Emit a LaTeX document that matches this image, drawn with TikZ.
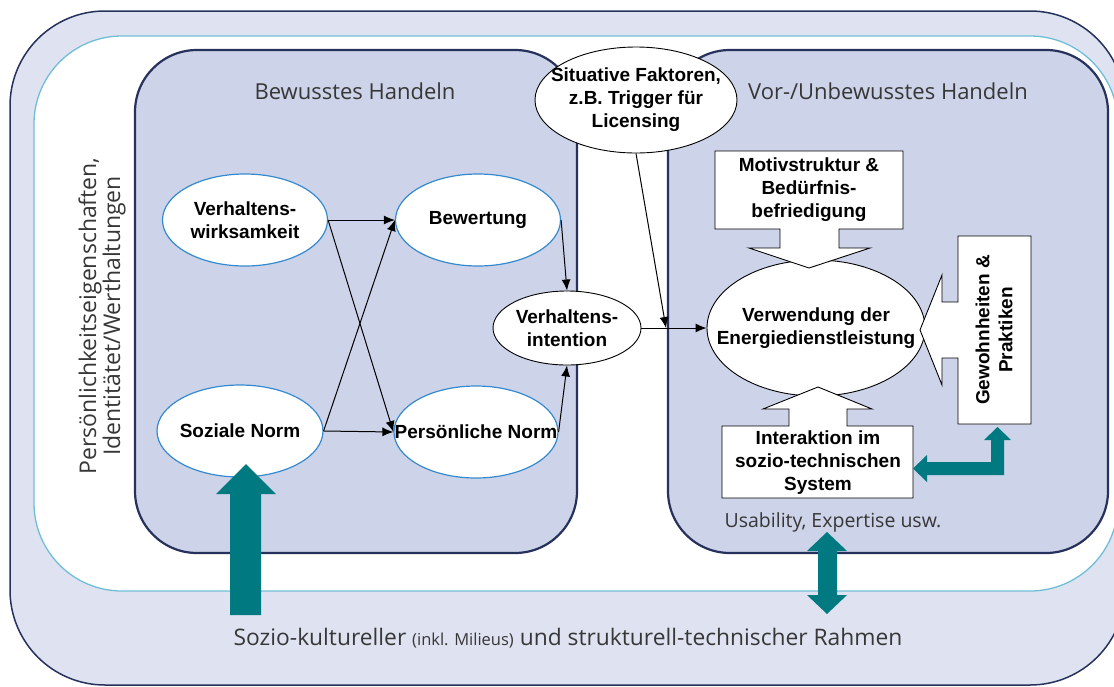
\documentclass[tikz,border=0pt]{standalone}
\usepackage{fontspec}
\setmainfont{Liberation Sans}
\newfontfamily\lightfont{Open Sans}
\usetikzlibrary{arrows.meta,shapes.geometric}

\definecolor{navy}{RGB}{38,50,92}
\definecolor{outerfill}{RGB}{223,227,241}
\definecolor{panelfill}{RGB}{205,211,232}
\definecolor{skyline}{RGB}{112,190,214}
\definecolor{tealarrow}{RGB}{0,122,128}
\definecolor{ellblue}{RGB}{52,138,208}
\definecolor{graytext}{RGB}{55,55,55}

\begin{document}
\begin{tikzpicture}[x=1pt,y=-1pt,
  boldtext/.style={font=\fontsize{19}{23}\selectfont\bfseries,align=center},
  headline/.style={font=\lightfont\fontsize{22}{26}\selectfont,text=graytext,anchor=base},
  blueell/.style={ellipse,draw=ellblue,line width=1.2pt,fill=white,inner sep=-40pt,boldtext},
  blackell/.style={ellipse,draw=black,line width=0.9pt,fill=white,inner sep=-40pt,boldtext},
  conn/.style={line width=1pt,-{Latex[length=11pt,width=9pt]}},
  callout/.style={draw=black,line width=0.9pt,fill=white},
  bigarrow/.style={fill=tealarrow}]
\useasboundingbox (0,0) rectangle (1114,686);

% Step 1
\begin{scope}
\clip (0,0) rectangle (1114,686);
\draw[navy,line width=1.5pt,fill=outerfill,rounded corners=95pt] (10,11) rectangle (1125,685);
\draw[skyline,line width=1.3pt,fill=white,rounded corners=88pt] (34,36) rectangle (1118,591);
\draw[navy,line width=2.2pt,fill=panelfill,rounded corners=62pt] (135,50) rectangle (577,553);
\draw[navy,line width=2.2pt,fill=panelfill,rounded corners=62pt] (668,50) rectangle (1108,553);
\end{scope}

\node[headline] (bewusst) at (355,99) {Bewusstes Handeln};
\node[headline] (unbewusst) at (888,99) {Vor-/Unbewusstes Handeln};
\node[headline,font=\lightfont\fontsize{19.5}{22}\selectfont] (usab) at (833,527) {Usability, Expertise usw.};
\node[headline,font=\lightfont\fontsize{22.8}{26}\selectfont] (rahmen) at (568,645) {Sozio-kultureller {\fontsize{16.5}{18}\selectfont (inkl. Milieus)} und strukturell-technischer Rahmen};
\node[font=\lightfont\fontsize{23}{24}\selectfont,text=graytext,rotate=90,align=center] (pers) at (102,316) {Persönlichkeitseigenschaften,\\Identitätet/Werthaltungen};

% Step 2
\node[blueell,minimum width=165pt,minimum height=92pt] (wirk) at (245,220) {Verhaltens-\\wirksamkeit};
\node[blueell,minimum width=165pt,minimum height=92pt] (bew) at (478,220) {Bewertung};
\node[blueell,minimum width=166pt,minimum height=92pt] (snorm) at (240,431) {Soziale Norm};
\node[blueell,minimum width=164pt,minimum height=92pt] (pnorm) at (476,432) {Persönliche Norm};
\node[blackell,minimum width=148pt,minimum height=74pt] (vint) at (567,328) {Verhaltens-\\intention};
\node[blackell,minimum width=202pt,minimum height=106pt] (sit) at (636,100) {Situative Faktoren,\\z.B. Trigger für\\Licensing};
\node[blackell,minimum width=218pt,minimum height=136pt] (verw) at (816,328) {Verwendung der\\Energiedienstleistung};

\coordinate (meet) at (666,328);

\draw[conn] (wirk.east) -- (bew.west);
\draw[conn] (wirk.east) -- (pnorm.west);
\draw[conn] (snorm.east) -- (bew.west);
\draw[conn] (snorm.east) -- (pnorm.west);
\draw[conn] (bew.east) -- (vint.north);
\draw[conn] (pnorm.east) -- (vint.south);
\draw[conn] (vint.east) -- (verw.west);
\draw[conn] (sit.south) -- (meet);

% Step 3
\draw[callout] (715,151) -- (903,151) -- (903,229) -- (839,229) -- (839,248) -- (870,248) -- (809,268) -- (749,248) -- (780,248) -- (780,229) -- (715,229) -- cycle;
\draw[callout] (722,426) -- (789,426) -- (789,409) -- (763,409) -- (818,387) -- (872,409) -- (847,409) -- (847,426) -- (913,426) -- (913,498) -- (722,498) -- cycle;
\draw[callout] (958,236) -- (1031,236) -- (1031,424) -- (958,424) -- (958,358) -- (942,358) -- (942,385) -- (920,330) -- (942,275) -- (942,302) -- (958,302) -- cycle;

\node[boldtext] (motiv) at (809,190) {Motivstruktur \&\\Bedürfnis-\\befriedigung};
\node[boldtext] (interakt) at (818,463) {Interaktion im\\sozio-technischen\\System};
\node[boldtext,rotate=90] (gewohn) at (994,330) {Gewohnheiten \&\\Praktiken};

% Step 4
\fill[bigarrow] (230,615) -- (230,494) -- (216,494) -- (246,464) -- (276,494) -- (261,494) -- (261,615) -- cycle;
\fill[bigarrow] (827,532) -- (847,551) -- (837,551) -- (837,595) -- (847,595) -- (827,614) -- (807,595) -- (818,595) -- (818,551) -- (807,551) -- cycle;
\fill[bigarrow] (913,468.5) -- (927,455) -- (927,462) -- (991,462) -- (991,440) -- (984,440) -- (997.5,427) -- (1011,440) -- (1004,440) -- (1004,475) -- (927,475) -- (927,482) -- cycle;

\end{tikzpicture}
\end{document}
